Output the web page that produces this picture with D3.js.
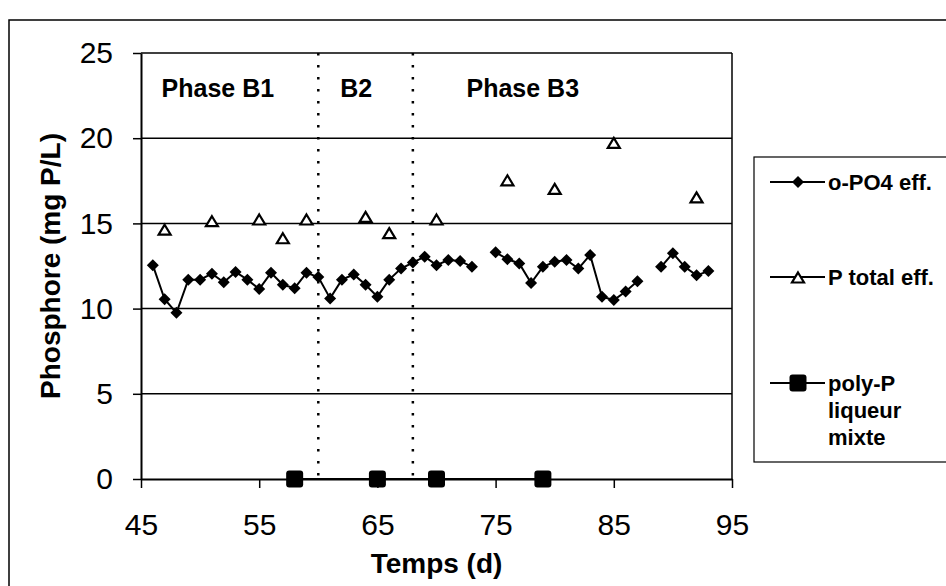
<!DOCTYPE html>
<html>
<head>
<meta charset="utf-8">
<script src="https://cdn.jsdelivr.net/npm/d3@7"></script>
<style>
  body { margin: 0; background: #fff; }
  svg { display: block; font-family: "Liberation Sans", Arial, sans-serif; }
</style>
</head>
<body>
<div id="chart"></div>
<script>
// Data
const opo4Days = [46, 47, 48, 49, 50, 51, 52, 53, 54, 55, 56, 57, 58, 59, 60, 61, 62, 63, 64, 65,
  66, 67, 68, 69, 70, 71, 72, 73, 74, 75, 76, 77, 78, 79, 80, 81, 82, 83, 84, 85, 86, 87, 88,
  89, 90, 91, 92, 93];
const opo4Values = [12.55, 10.55, 9.75, 11.7, 11.7, 12.05, 11.55, 12.15, 11.7, 11.15, 12.1, 11.4,
  11.2, 12.1, 11.85, 10.6, 11.7, 12.0, 11.4, 10.7, 11.7, 12.35, 12.7, 13.05, 12.55, 12.85, 12.8,
  12.45, null, 13.3, 12.9, 12.65, 11.5, 12.45, 12.75, 12.85, 12.35, 13.15, 10.7, 10.5, 11.0,
  11.6, null, 12.45, 13.25, 12.45, 11.95, 12.2];

const ptotDays = [47, 51, 55, 57, 59, 64, 66, 70, 76, 80, 85, 92];
const ptotValues = [14.6, 15.1, 15.2, 14.1, 15.2, 15.35, 14.4, 15.2, 17.5, 17.0, 19.7, 16.5];

const polyDays = [58, 65, 70, 79];
const polyValues = [0, 0, 0, 0];

const xTicks = [45, 55, 65, 75, 85, 95];
const yTicks = [0, 5, 10, 15, 20, 25];

const phaseBounds = [60, 68];
const phaseLabels = [
  { text: "Phase B1", day: 51.5 },
  { text: "B2", day: 63.2 },
  { text: "Phase B3", day: 77.3 }
];

const legendItems = [
  { key: "opo4", lines: ["o-PO4 eff."] },
  { key: "ptot", lines: ["P total eff."] },
  { key: "poly", lines: ["poly-P", "liqueur", "mixte"] }
];

// Layout
const width = 946, height = 586;
const plot = { left: 141, right: 732, top: 53, bottom: 479 };

const svg = d3.select("#chart").append("svg")
  .attr("width", width)
  .attr("height", height);

// Outer chart border
svg.append("rect")
  .attr("x", 9).attr("y", 20)
  .attr("width", 960).attr("height", 600)
  .attr("fill", "none")
  .attr("stroke", "#000")
  .attr("stroke-width", 1.5);

const x = d3.scaleLinear().domain([45, 95]).range([plot.left, plot.right]);
const y = d3.scaleLinear().domain([0, 25]).range([plot.bottom, plot.top]);

// Gridlines
svg.append("g")
  .selectAll("line")
  .data(yTicks.filter(d => d > 0))
  .join("line")
  .attr("x1", plot.left).attr("x2", plot.right)
  .attr("y1", d => y(d)).attr("y2", d => y(d))
  .attr("stroke", "#000")
  .attr("stroke-width", 1.5);

// Right border of plot area
svg.append("line")
  .attr("x1", plot.right).attr("x2", plot.right)
  .attr("y1", plot.top).attr("y2", plot.bottom)
  .attr("stroke", "#000").attr("stroke-width", 1.5);

// Phase separators (dotted)
svg.append("g")
  .selectAll("line")
  .data(phaseBounds)
  .join("line")
  .attr("x1", d => x(d)).attr("x2", d => x(d))
  .attr("y1", y(25)).attr("y2", y(0))
  .attr("stroke", "#000")
  .attr("stroke-width", 2.5)
  .attr("stroke-dasharray", "2.5,9.5");

// Axes
const xAxis = svg.append("g")
  .attr("transform", `translate(0,${plot.bottom})`)
  .call(d3.axisBottom(x).tickValues(xTicks).tickSize(9).tickSizeOuter(0));
xAxis.select(".domain").attr("stroke-width", 2);
xAxis.selectAll(".tick line").attr("stroke-width", 1.5);
xAxis.selectAll(".tick text")
  .attr("font-size", 30)
  .attr("font-family", "Liberation Sans, Arial, sans-serif")
  .attr("fill", "#000")
  .attr("dy", "1.47em");

const yAxis = svg.append("g")
  .attr("transform", `translate(${plot.left},0)`)
  .call(d3.axisLeft(y).tickValues(yTicks).tickSize(8).tickSizeOuter(0));
yAxis.select(".domain").attr("stroke-width", 2);
yAxis.selectAll(".tick line").attr("stroke-width", 1.5);
yAxis.selectAll(".tick text")
  .attr("font-size", 30)
  .attr("font-family", "Liberation Sans, Arial, sans-serif")
  .attr("fill", "#000")
  .attr("x", -28);

// Axis titles
svg.append("text")
  .attr("x", (plot.left + plot.right) / 2)
  .attr("y", 573)
  .attr("text-anchor", "middle")
  .attr("font-size", 28)
  .attr("font-weight", "bold")
  .text("Temps (d)");

svg.append("text")
  .attr("transform", `translate(50,${(plot.top + plot.bottom) / 2}) rotate(-90)`)
  .attr("text-anchor", "middle")
  .attr("dy", "0.35em")
  .attr("font-size", 28)
  .attr("font-weight", "bold")
  .text("Phosphore (mg P/L)");

// Phase labels
svg.append("g")
  .selectAll("text")
  .data(phaseLabels)
  .join("text")
  .attr("x", d => x(d.day))
  .attr("y", y(22.4))
  .attr("text-anchor", "middle")
  .attr("font-size", 25)
  .attr("font-weight", "bold")
  .text(d => d.text);

// Marker shapes
const diamond = d3.symbol().type(d3.symbolSquare).size(72)();
const triangle = "M0,-5.5L6,4.5L-6,4.5Z";

// o-PO4 series
const opo4 = opo4Days.map((d, i) => ({ day: d, value: opo4Values[i] }));
const line = d3.line()
  .defined(d => d.value !== null)
  .x(d => x(d.day))
  .y(d => y(d.value));

svg.append("path")
  .datum(opo4)
  .attr("d", line)
  .attr("fill", "none")
  .attr("stroke", "#000")
  .attr("stroke-width", 2);

svg.append("g")
  .selectAll("path")
  .data(opo4.filter(d => d.value !== null))
  .join("path")
  .attr("d", diamond)
  .attr("transform", d => `translate(${x(d.day)},${y(d.value)}) rotate(45)`)
  .attr("fill", "#000");

// P total series (markers only)
svg.append("g")
  .selectAll("path")
  .data(ptotDays.map((d, i) => ({ day: d, value: ptotValues[i] })))
  .join("path")
  .attr("d", triangle)
  .attr("transform", d => `translate(${x(d.day)},${y(d.value)})`)
  .attr("fill", "#fff")
  .attr("stroke", "#000")
  .attr("stroke-width", 2.2);

// poly-P series
const poly = polyDays.map((d, i) => ({ day: d, value: polyValues[i] }));
svg.append("path")
  .datum(poly)
  .attr("d", line)
  .attr("fill", "none")
  .attr("stroke", "#000")
  .attr("stroke-width", 2);

svg.append("g")
  .selectAll("rect")
  .data(poly)
  .join("rect")
  .attr("x", d => x(d.day) - 8.5)
  .attr("y", d => y(d.value) - 8.5)
  .attr("width", 17).attr("height", 17)
  .attr("rx", 3)
  .attr("fill", "#000");

// Legend
const legend = svg.append("g").attr("transform", "translate(754,157)");
legend.append("rect")
  .attr("width", 220).attr("height", 305)
  .attr("fill", "#fff")
  .attr("stroke", "#000")
  .attr("stroke-width", 1.2);

const legendY = [25, 120, 226];
legendItems.forEach((item, i) => {
  const g = legend.append("g").attr("transform", `translate(0,${legendY[i]})`);
  g.append("line")
    .attr("x1", 16).attr("x2", 71)
    .attr("y1", 0).attr("y2", 0)
    .attr("stroke", "#000").attr("stroke-width", 2);
  if (item.key === "opo4") {
    g.append("path").attr("d", diamond).attr("transform", "translate(44,0) rotate(45)").attr("fill", "#000");
  } else if (item.key === "ptot") {
    g.append("path").attr("d", triangle).attr("transform", "translate(44,1)")
      .attr("fill", "#fff").attr("stroke", "#000").attr("stroke-width", 2.2);
  } else {
    g.append("rect").attr("x", 35.5).attr("y", -8.5).attr("width", 17).attr("height", 17)
      .attr("rx", 3).attr("fill", "#000");
  }
  item.lines.forEach((t, j) => {
    g.append("text")
      .attr("x", 74)
      .attr("y", j * 27)
      .attr("dy", "0.35em")
      .attr("font-size", 22)
      .attr("font-weight", "bold")
      .text(t);
  });
});
</script>
</body>
</html>
